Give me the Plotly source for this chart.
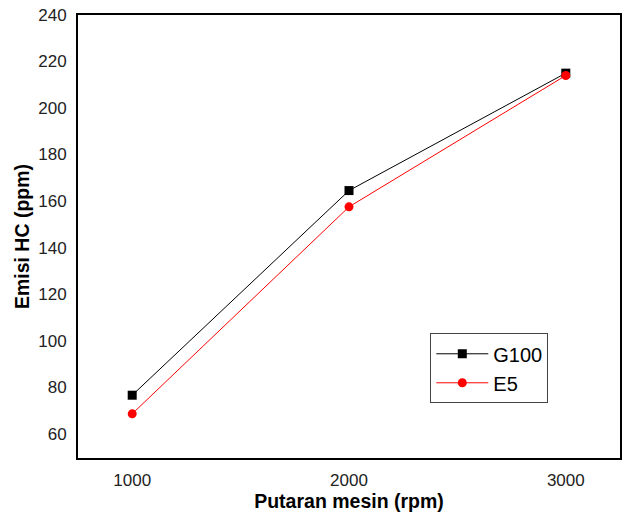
import plotly.graph_objects as go

rpm = [1000, 2000, 3000]
g100 = [76.5, 164.5, 215]
e5 = [68.5, 157.5, 214]

fig = go.Figure()
fig.add_trace(go.Scatter(x=rpm, y=g100, name="G100", mode="lines+markers",
                         line=dict(color="black", width=1),
                         marker=dict(symbol="square", size=9, color="black")))
fig.add_trace(go.Scatter(x=rpm, y=e5, name="E5", mode="lines+markers",
                         line=dict(color="red", width=1),
                         marker=dict(symbol="circle", size=9, color="red")))

font = "Liberation Sans, Arial, sans-serif"
fig.update_layout(
    width=624, height=512,
    margin=dict(l=78, r=2, t=15, b=53),
    plot_bgcolor="white", paper_bgcolor="white",
    font=dict(family=font, color="#222222", size=17),
    showlegend=True,
    legend=dict(x=0.65, y=0.2815, xanchor="left", yanchor="top",
                bgcolor="white", bordercolor="#444444", borderwidth=1,
                font=dict(size=20, color="black"), tracegroupgap=0,
                itemwidth=52),
    xaxis=dict(range=[750, 3250], tickvals=rpm, ticktext=["1000", "2000", "3000"],
               showgrid=False, zeroline=False, showline=True, linecolor="black",
               linewidth=2, mirror=True, ticks="", ticklabelstandoff=6,
               tickfont=dict(size=17),
               title=dict(text="<b>Putaran mesin (rpm)</b>", font=dict(size=19.5, color="black"),
                          standoff=6)),
    yaxis=dict(range=[49.5, 240], tickvals=[60, 80, 100, 120, 140, 160, 180, 200, 220, 240],
               showgrid=False, zeroline=False, showline=True, linecolor="black",
               linewidth=2, mirror=True, ticks="", ticklabelstandoff=6,
               tickfont=dict(size=17),
               title=dict(text="<b>Emisi HC (ppm)</b>", font=dict(size=19.5, color="black"),
                          standoff=3)),
)
fig.write_html("out.html")
